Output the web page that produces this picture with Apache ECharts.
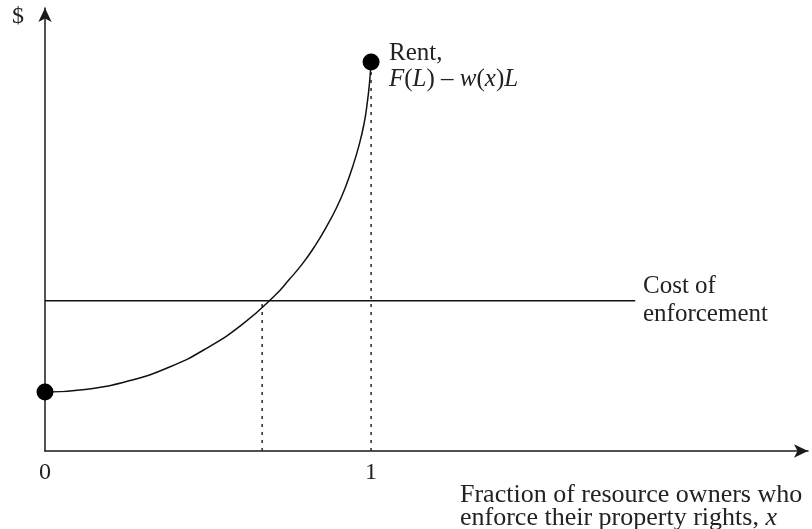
<!DOCTYPE html>
<html>
<head>
<meta charset="utf-8">
<script src="https://cdn.jsdelivr.net/npm/echarts@6/dist/echarts.min.js"></script>
<style>
  html, body { margin: 0; padding: 0; background: #fff; }
  #main { width: 812px; height: 529px; }
</style>
</head>
<body>
<div id="main"></div>
<script>
// rent curve (x = fraction, y = $ on a 0-100 scale)
var rentX = [0, 0.130, 0.258, 0.382, 0.498, 0.607, 0.705, 0.749, 0.791, 0.829, 0.863, 0.894, 0.921, 0.944, 0.963, 0.978, 0.988, 0.995, 1.0]
var rentY = [13.3, 13.95, 15.85, 18.96, 23.3, 28.7, 35.1, 38.7, 42.4, 46.4, 50.6, 54.9, 59.5, 64.3, 69.0, 73.7, 78.4, 82.9, 87.8]
var costY = 33.9       // cost of enforcement
var costEndX = 1.81    // where the cost line stops
var crossX = 0.666     // dotted drop at the crossing
var tickValues = [0, 1]

var serif = 'Liberation Serif'
var chart = echarts.init(document.getElementById('main'))

var rentData = rentX.map(function(x, i) { return [x, rentY[i]] })
var italic = { fontStyle: 'italic', fontFamily: serif, fontSize: 25, fill: '#222' }

var option = {
  animation: false,
  grid: { left: 45, right: 4, top: 8, bottom: 78 },
  xAxis: {
    type: 'value',
    min: 0,
    max: 2.34,
    splitLine: { show: false },
    axisTick: { show: false },
    axisLine: {
      lineStyle: { color: '#1a1a1a', width: 1.5 },
      symbol: ['none', 'arrow'],
      symbolSize: [10, 14]
    },
    axisLabel: {
      customValues: tickValues,
      margin: 10,
      fontFamily: serif,
      fontSize: 24,
      color: '#222'
    }
  },
  yAxis: {
    type: 'value',
    min: 0,
    max: 100,
    splitLine: { show: false },
    axisTick: { show: false },
    axisLabel: { show: false },
    axisLine: {
      show: true,
      lineStyle: { color: '#1a1a1a', width: 1.5 },
      symbol: ['none', 'arrow'],
      symbolSize: [10, 14]
    }
  },
  series: [
    {
      name: 'cost',
      type: 'line',
      data: [[0, costY], [costEndX, costY]],
      showSymbol: false,
      lineStyle: { color: '#111', width: 1.5 }
    },
    {
      name: 'drop1',
      type: 'line',
      data: [[1, 0], [1, rentY[rentY.length - 1]]],
      showSymbol: false,
      lineStyle: { color: '#333', width: 1.6, type: [3, 5] }
    },
    {
      name: 'drop2',
      type: 'line',
      data: [[crossX, 0], [crossX, costY]],
      showSymbol: false,
      lineStyle: { color: '#333', width: 1.6, type: [3, 5] }
    },
    {
      name: 'rent',
      type: 'line',
      data: rentData,
      smooth: 0.5,
      showSymbol: false,
      lineStyle: { color: '#111', width: 1.5 }
    },
    {
      name: 'ends',
      type: 'scatter',
      data: [rentData[0], rentData[rentData.length - 1]],
      symbolSize: 17,
      itemStyle: { color: '#000', opacity: 1 },
      z: 5
    }
  ],
  graphic: [
    {
      type: 'text', left: 12, top: 5,
      style: { text: '$', font: '24px ' + serif, fill: '#222' }
    },
    {
      type: 'text', left: 389, top: 40,
      style: {
        text: 'Rent,\n{i|F}({i|L}) – {i|w}({i|x}){i|L}',
        font: '25px ' + serif,
        lineHeight: 26,
        fill: '#222',
        rich: { i: italic }
      }
    },
    {
      type: 'text', left: 643, top: 272,
      style: { text: 'Cost of\nenforcement', font: '25px ' + serif, lineHeight: 28, fill: '#222' }
    },
    {
      type: 'text', left: 460, top: 482,
      style: {
        text: 'Fraction of resource owners who\nenforce their property rights, {i|x}',
        font: '26px ' + serif,
        lineHeight: 23,
        fill: '#222',
        rich: { i: { fontStyle: 'italic', fontFamily: serif, fontSize: 26, fill: '#222' } }
      }
    }
  ]
}

chart.setOption(option)
</script>
</body>
</html>
